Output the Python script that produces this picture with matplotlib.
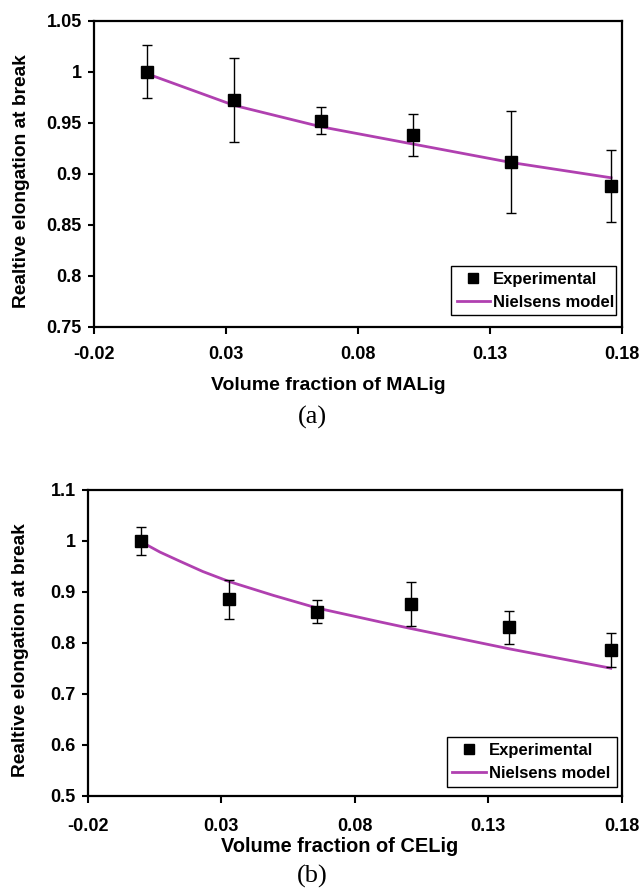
import numpy as np
import matplotlib.pyplot as plt
from matplotlib.lines import Line2D

# Data
phi_exp = [0.0, 0.033, 0.066, 0.101, 0.138, 0.176]

# (a) MALig
malig_exp = [1.000, 0.972, 0.952, 0.938, 0.911, 0.888]
malig_err = [0.026, 0.041, 0.013, 0.021, 0.050, 0.035]
malig_model_x = [0.0, 0.033, 0.066, 0.101, 0.138, 0.176]
malig_model = [0.998, 0.967, 0.946, 0.929, 0.911, 0.896]

# (b) CELig
celig_exp = [1.000, 0.885, 0.861, 0.876, 0.830, 0.786]
celig_err = [0.027, 0.038, 0.022, 0.043, 0.033, 0.034]
celig_model_x = [0.0, 0.007, 0.0145, 0.023, 0.033, 0.0495, 0.066, 0.0894, 0.101, 0.138, 0.176]
celig_model = [0.998, 0.978, 0.960, 0.940, 0.920, 0.893, 0.868, 0.841, 0.828, 0.788, 0.750]

xticks = [-0.02, 0.03, 0.08, 0.13, 0.18]
xtick_labels = ['-0.02', '0.03', '0.08', '0.13', '0.18']

plt.rcParams['font.family'] = ['Liberation Sans', 'DejaVu Sans']
line_color = '#b040b0'

fig = plt.figure(figsize=(6.39, 8.89), dpi=100)
W, H = 639.0, 889.0


def make_panel(rect, x_model, y_model, y_exp, y_err, ylim, yticks, ylabels, leg_box, xpad):
    ax = fig.add_axes(rect)
    ax.plot(x_model, y_model, color=line_color, lw=2.0, zorder=2)
    ax.errorbar(phi_exp, y_exp, yerr=y_err, fmt='s', color='black', ms=8.5,
                ecolor='black', elinewidth=1.0, capsize=3.5, capthick=1.0, zorder=3)
    ax.set_xlim(-0.02, 0.18)
    ax.set_ylim(*ylim)
    ax.set_xticks(xticks)
    ax.set_xticklabels(xtick_labels)
    ax.set_yticks(yticks)
    ax.set_yticklabels(ylabels)
    for lab in ax.get_xticklabels() + ax.get_yticklabels():
        lab.set_fontweight('bold')
        lab.set_fontsize(13)
    ax.tick_params(axis='x', direction='out', length=5, width=1.5, pad=xpad)
    ax.tick_params(axis='y', direction='out', length=4, width=1.5, pad=5)
    for sp in ax.spines.values():
        sp.set_linewidth(1.6)
        sp.set_color('black')
    handles = [Line2D([], [], marker='s', ls='none', color='black', ms=7),
               Line2D([], [], color=line_color, lw=2.0)]
    leg = ax.legend(handles, ['Experimental', 'Nielsens model'],
                    loc='lower left', bbox_to_anchor=leg_box, mode='expand',
                    prop={'weight': 'bold', 'size': 12}, fancybox=False,
                    edgecolor='black', framealpha=1, borderaxespad=0,
                    handlelength=2.0, handletextpad=0.2, borderpad=0.35,
                    labelspacing=0.45)
    leg.get_frame().set_linewidth(1.0)
    return ax


# top panel (a)
ax1 = make_panel([94.3 / W, 1 - 326.7 / H, 527.4 / W, 306 / H],
                 malig_model_x, malig_model, malig_exp, malig_err,
                 (0.75, 1.05), [0.75, 0.8, 0.85, 0.9, 0.95, 1.0, 1.05],
                 ['0.75', '0.8', '0.85', '0.9', '0.95', '1', '1.05'],
                 (0.676, 0.037, 0.314, 0.193), 9)
fig.text(21.7 / W, 1 - 181 / H, 'Realtive elongation at break', rotation=90,
         ha='center', va='center', fontsize=13.8, fontweight='bold')
fig.text(328 / W, 1 - 385 / H, 'Volume fraction of MALig', ha='center',
         va='center', fontsize=14, fontweight='bold')
fig.text(312 / W, 1 - 417 / H, '(a)', ha='center', va='center', fontsize=19,
         family=['Liberation Serif', 'DejaVu Serif'])

# bottom panel (b)
ax2 = make_panel([88 / W, 1 - 795.5 / H, 533.5 / W, 305.5 / H],
                 celig_model_x, celig_model, celig_exp, celig_err,
                 (0.5, 1.1), [0.5, 0.6, 0.7, 0.8, 0.9, 1.0, 1.1],
                 ['0.5', '0.6', '0.7', '0.8', '0.9', '1', '1.1'],
                 (0.672, 0.029, 0.319, 0.172), 11)
fig.text(20.7 / W, 1 - 650 / H, 'Realtive elongation at break', rotation=90,
         ha='center', va='center', fontsize=13.8, fontweight='bold')
fig.text(340 / W, 1 - 847 / H, 'Volume fraction of CELig', ha='center',
         va='center', fontsize=14.4, fontweight='bold')
fig.text(312.5 / W, 1 - 876 / H, '(b)', ha='center', va='center', fontsize=19,
         family=['Liberation Serif', 'DejaVu Serif'])

fig.savefig('out.png', dpi=100)
